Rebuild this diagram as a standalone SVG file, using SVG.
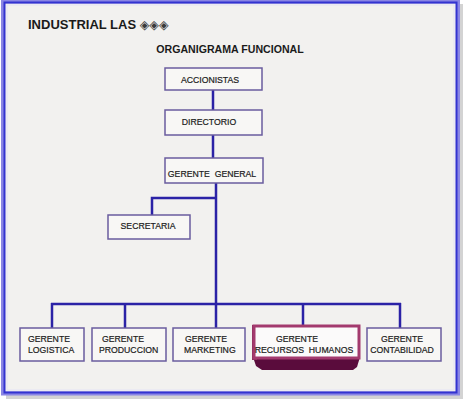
<svg xmlns="http://www.w3.org/2000/svg" width="465" height="402" viewBox="0 0 465 402">
<style>
.box{fill:#f8f7f5;stroke:#6a5c9e;stroke-width:1.5}
.lbl{font-family:"Liberation Sans",Arial,sans-serif;font-size:8.7px;fill:#1c1c1c;stroke:#1c1c1c;stroke-width:0.2}
.c{text-anchor:middle}
.con{fill:none;stroke:#2b22a6;stroke-width:2.5}
</style>
<rect x="0" y="0" width="465" height="402" fill="#ffffff"/>
<rect x="6" y="4" width="457" height="395" fill="#b5b5b5" opacity="0.6"/>
<rect x="3" y="1.5" width="455" height="392" fill="#f2f1ef" stroke="#8a86e4" stroke-width="4"/>
<rect x="4.5" y="2.5" width="452" height="390" fill="none" stroke="#3333d0" stroke-width="2"/>
<rect x="7" y="5" width="447" height="385" fill="none" stroke="#e4e3f4" stroke-width="1"/>

<g id="title">
<text x="28" y="29" font-family="'Liberation Sans',Arial,sans-serif" font-size="13" font-weight="bold" fill="#1a1a1a">INDUSTRIAL LAS <tspan font-family="'DejaVu Sans',sans-serif" font-size="12.5" font-weight="normal" fill="#3a3a3a" dy="-0.5">◈◈◈</tspan></text>
<text x="230" y="53" text-anchor="middle" font-family="'Liberation Sans',Arial,sans-serif" font-size="10.6" font-weight="bold" fill="#1a1a1a">ORGANIGRAMA FUNCIONAL</text>
</g>

<g id="connectors">
<line class="con" x1="213" y1="90" x2="213" y2="110"/>
<line class="con" x1="213" y1="135" x2="213" y2="158"/>
<line class="con" x1="216" y1="183" x2="216" y2="304"/>
<polyline class="con" points="216,198 152,198 152,215"/>
<line class="con" x1="51" y1="304" x2="401" y2="304"/>
<line class="con" x1="52" y1="303" x2="52" y2="328"/>
<line class="con" x1="125" y1="303" x2="125" y2="328"/>
<line class="con" x1="216" y1="303" x2="216" y2="328"/>
<line class="con" x1="303" y1="303" x2="303" y2="326"/>
<line class="con" x1="400" y1="303" x2="400" y2="328"/>
</g>

<g id="accionistas">
<rect class="box" x="165" y="68" width="97" height="22"/>
<text class="lbl c" x="210" y="83">ACCIONISTAS</text>
</g>
<g id="directorio">
<rect class="box" x="165" y="110" width="97" height="25"/>
<text class="lbl c" x="209" y="125">DIRECTORIO</text>
</g>
<g id="gerente-general">
<rect class="box" x="165" y="158" width="98" height="25"/>
<text class="lbl c" x="212" y="177" xml:space="preserve">GERENTE  GENERAL</text>
</g>
<g id="secretaria">
<rect class="box" x="108" y="215" width="82" height="24"/>
<text class="lbl c" x="148" y="229">SECRETARIA</text>
</g>
<g id="gerente-logistica">
<rect class="box" x="20" y="328" width="64" height="33"/>
<text class="lbl" x="28" y="342">GERENTE</text>
<text class="lbl" x="28" y="353">LOGISTICA</text>
</g>
<g id="gerente-produccion">
<rect class="box" x="92" y="328" width="74" height="33"/>
<text class="lbl" x="102" y="342">GERENTE</text>
<text class="lbl" x="99" y="353">PRODUCCION</text>
</g>
<g id="gerente-marketing">
<rect class="box" x="173" y="328" width="72" height="33"/>
<text class="lbl" x="185" y="342">GERENTE</text>
<text class="lbl" x="184" y="353">MARKETING</text>
</g>
<g id="gerente-rrhh">
<polygon points="253,357 360,357 357,367 353,370 262,370 256,366" fill="#5a0c3c"/>
<rect x="252" y="325" width="5" height="35" fill="#8a2a5a"/>
<rect x="254" y="326" width="105" height="32" fill="#fbfafa" stroke="#a33a6e" stroke-width="3"/>
<text class="lbl c" x="297" y="342">GERENTE</text>
<text class="lbl c" x="304" y="353" xml:space="preserve">RECURSOS  HUMANOS</text>
</g>
<g id="gerente-contabilidad">
<rect class="box" x="367" y="328" width="74" height="33"/>
<text class="lbl c" x="402" y="342">GERENTE</text>
<text class="lbl c" x="402" y="353">CONTABILIDAD</text>
</g>
</svg>
